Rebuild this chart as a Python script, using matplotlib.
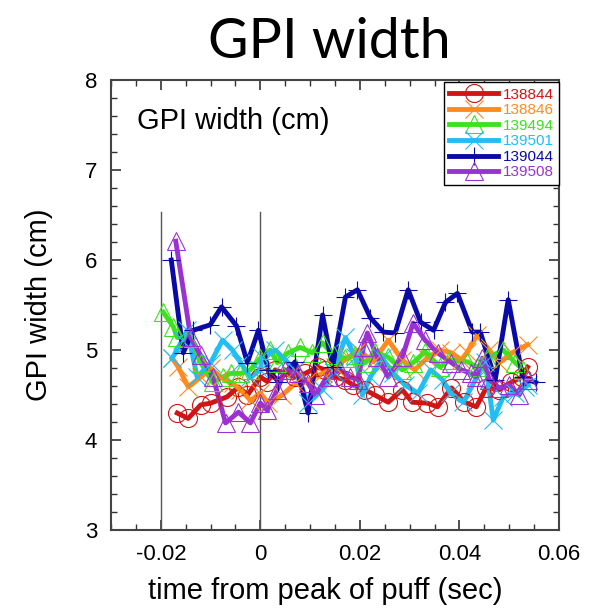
import matplotlib.pyplot as plt
from matplotlib.ticker import MultipleLocator
from matplotlib.lines import Line2D

# shots shown in the legend
shots = ['138844', '138846', '139494', '139501', '139044', '139508']

# time from peak of puff (sec) and GPI width (cm)
t_138844 = [-0.0167, -0.0145, -0.012, -0.010, -0.0067, -0.0044, -0.0026, 0.0, 0.0014, 0.003,
            0.007, 0.009, 0.0115, 0.013, 0.015, 0.017, 0.0187, 0.021, 0.023, 0.0257,
            0.0285, 0.0305, 0.0335, 0.0356, 0.0384, 0.041, 0.0434, 0.0454, 0.048, 0.0504,
            0.0525, 0.0537]
w_138844 = [4.30, 4.24, 4.39, 4.41, 4.48, 4.59, 4.50, 4.70, 4.65, 4.78,
            4.70, 4.74, 4.81, 4.78, 4.70, 4.67, 4.61, 4.56, 4.50, 4.42,
            4.56, 4.42, 4.41, 4.37, 4.58, 4.42, 4.37, 4.58, 4.56, 4.64,
            4.70, 4.81]

t_138846 = [-0.0177, -0.0165, -0.0145, -0.012, -0.010, -0.008, -0.0056, -0.004, -0.002, 0.0,
            0.0016, 0.0044, 0.007, 0.0096, 0.0125, 0.015, 0.0177, 0.0197, 0.0227, 0.0257,
            0.0285, 0.031, 0.0335, 0.036, 0.0384, 0.0404, 0.0416, 0.0436, 0.046, 0.048,
            0.0506, 0.0537]
w_138846 = [4.91, 4.81, 4.59, 4.70, 4.80, 4.70, 4.63, 4.56, 4.44, 4.52,
            4.41, 4.50, 4.63, 4.67, 4.74, 4.81, 4.92, 5.00, 4.87, 5.11,
            4.89, 4.78, 4.91, 5.00, 4.97, 4.89, 4.98, 5.17, 5.00, 4.86,
            4.97, 5.06]

t_139494 = [-0.0195, -0.0175, -0.0167, -0.0145, -0.012, -0.0096, -0.0076, -0.006, -0.004, -0.002,
            0.0, 0.002, 0.0034, 0.0056, 0.008, 0.0104, 0.0125, 0.0147, 0.0171, 0.0191,
            0.0211, 0.0231, 0.0257, 0.0285, 0.0307, 0.0331, 0.0361, 0.038, 0.0416, 0.0436,
            0.0456, 0.0488, 0.0512, 0.0528]
w_139494 = [5.42, 5.26, 5.14, 5.13, 4.86, 4.64, 4.70, 4.74, 4.74, 4.78,
            4.91, 5.00, 4.86, 4.97, 5.03, 4.97, 5.08, 4.94, 4.91, 4.94,
            4.86, 4.98, 4.92, 4.78, 4.86, 4.98, 4.81, 4.89, 4.87, 4.81,
            4.91, 5.00, 4.86, 4.78]

t_139501 = [-0.0177, -0.0157, -0.0147, -0.0127, -0.010, -0.0076, -0.0056, -0.004, -0.002, 0.0,
            0.0004, 0.003, 0.005, 0.007, 0.0096, 0.0125, 0.0147, 0.0171, 0.0191, 0.0205,
            0.0221, 0.0245, 0.0267, 0.0291, 0.0317, 0.0342, 0.0366, 0.0382, 0.0408, 0.0432,
            0.0452, 0.0468, 0.0488, 0.0512, 0.0532, 0.0538]
w_139501 = [4.91, 5.11, 5.22, 4.70, 4.86, 5.11, 5.00, 4.86, 4.70, 4.78,
            4.92, 5.00, 4.89, 4.78, 4.41, 4.56, 4.76, 5.14, 4.92, 4.50,
            4.70, 4.91, 4.74, 4.61, 4.52, 4.78, 4.67, 4.52, 4.42, 4.67,
            4.87, 4.22, 4.48, 4.52, 4.59, 4.61]

t_139044 = [-0.0179, -0.0155, -0.0135, -0.0101, -0.0078, -0.0048, -0.0026, -0.0004, 0.0016, 0.0036,
            0.007, 0.0096, 0.0125, 0.0145, 0.0171, 0.0195, 0.0221, 0.0247, 0.0271, 0.0297,
            0.0322, 0.0348, 0.0372, 0.0396, 0.0426, 0.0442, 0.0472, 0.0498, 0.0527, 0.0553]
w_139044 = [6.00, 4.97, 5.22, 5.28, 5.48, 5.27, 4.86, 5.22, 4.78, 4.65,
            4.87, 4.30, 5.39, 4.81, 5.59, 5.67, 5.36, 5.20, 5.19, 5.67,
            5.31, 5.22, 5.53, 5.63, 5.20, 5.20, 4.67, 5.56, 4.70, 4.64]

t_139508 = [-0.017, -0.014, -0.012, -0.0095, -0.007, -0.0044, -0.002, 0.0, 0.0014, 0.0034,
            0.005, 0.0076, 0.0096, 0.0110, 0.0135, 0.016, 0.018, 0.0197, 0.0207, 0.0215,
            0.0235, 0.0257, 0.0285, 0.0307, 0.0331, 0.0356, 0.0384, 0.0404, 0.0424, 0.0434,
            0.0446, 0.046, 0.048, 0.050, 0.052, 0.0537]
w_139508 = [6.21, 5.14, 4.94, 4.70, 4.19, 4.31, 4.19, 4.41, 4.33, 4.56,
            4.78, 4.74, 4.63, 4.50, 4.70, 4.78, 4.70, 4.67, 5.03, 5.19,
            4.92, 4.70, 4.92, 5.30, 5.11, 4.97, 4.86, 4.78, 4.74, 4.70,
            4.91, 4.67, 4.58, 4.61, 4.50, 4.67]

series = [
    (t_138844, w_138844, '#d11414', 'o'),
    (t_138846, w_138846, '#ff8a1e', 'x'),
    (t_139494, w_139494, '#3ce21e', '^'),
    (t_139501, w_139501, '#22bdf2', 'x'),
    (t_139044, w_139044, '#0a0aa6', '+'),
    (t_139508, w_139508, '#9a32d2', '^'),
]

plt.rcParams['font.family'] = ['Liberation Sans', 'DejaVu Sans']

fig = plt.figure(figsize=(5.94, 6.12), dpi=100)
ax = fig.add_axes([0.187, 0.134, 0.754, 0.735])

# markers for puff start and peak
ax.plot([-0.02, -0.02], [3, 6.53], color='#555555', lw=1)
ax.plot([0, 0], [3, 6.53], color='#555555', lw=1)

handles = []
for (t, w, c, m), name in zip(series, shots):
    ax.plot(t, w, color=c, lw=3.5, zorder=3)
    ax.plot(t, w, ls='none', marker=m, ms=13, mfc='none', mec=c, mew=0.8, zorder=4)
    handles.append(Line2D([], [], color=c, lw=3.5, marker=m, ms=13, mfc='none', mec=c, mew=0.8))

ax.set_xlim(-0.03, 0.06)
ax.set_ylim(3, 8)
ax.xaxis.set_major_locator(MultipleLocator(0.02))
ax.xaxis.set_minor_locator(MultipleLocator(0.005))
ax.yaxis.set_major_locator(MultipleLocator(1))
ax.yaxis.set_minor_locator(MultipleLocator(0.2))
ax.set_xticks([-0.02, 0, 0.02, 0.04, 0.06])
ax.set_xticklabels(['-0.02', '0', '0.02', '0.04', '0.06'])
ax.tick_params(which='both', direction='in', top=True, right=True, labelsize=16, color='#333333')
ax.tick_params(which='major', length=7, width=1.2, pad=10)
ax.tick_params(which='minor', length=4, width=1)
for s in ax.spines.values():
    s.set_linewidth(1.5)
    s.set_color('#444444')

ax.set_xlabel('time from peak of puff (sec)', fontsize=21)
ax.xaxis.set_label_coords(0.478, -0.105)
ax.set_ylabel('GPI width (cm)', fontsize=21)
ax.yaxis.set_label_coords(-0.13, 0.5)
ax.text(0.058, 0.91, 'GPI width (cm)', transform=ax.transAxes, fontsize=21, va='center')

leg = ax.legend(handles, shots, loc='upper right', bbox_to_anchor=(1.0, 0.995), fontsize=11,
                handlelength=3.2, handletextpad=0.3, labelspacing=0.1, borderpad=0.35,
                fancybox=False, edgecolor='black', framealpha=1, borderaxespad=0)
leg.get_frame().set_linewidth(1)
for txt, (_, _, c, _) in zip(leg.get_texts(), series):
    txt.set_color(c)

fig.text(0.555, 0.93, 'GPI width', ha='center', va='center', fontsize=40, family=['Lato', 'DejaVu Sans'])

fig.savefig('out.png', dpi=100)
